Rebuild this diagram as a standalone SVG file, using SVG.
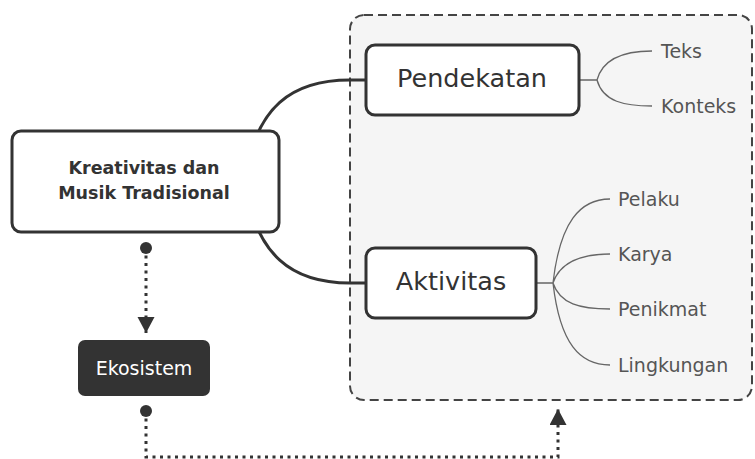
<svg xmlns="http://www.w3.org/2000/svg" width="755" height="459" viewBox="0 0 755 459">
<defs>
<style>
.node{fill:#fff;stroke:#333;stroke-width:3}
.main{font-family:"DejaVu Sans",sans-serif;font-weight:bold;font-size:17.5px;fill:#333;text-anchor:middle}
.topic{font-family:"DejaVu Sans",sans-serif;font-size:25.5px;fill:#333;text-anchor:middle}
.leaf{font-family:"DejaVu Sans",sans-serif;font-size:19px;fill:#555}
.eko{font-family:"DejaVu Sans",sans-serif;font-size:19px;fill:#fff;text-anchor:middle}
.thick{fill:none;stroke:#333;stroke-width:3}
.thin{fill:none;stroke:#666;stroke-width:1.3}
.dot{fill:none;stroke:#333;stroke-width:3;stroke-dasharray:3 4.5}
</style>
<marker id="arrow" markerUnits="userSpaceOnUse" markerWidth="18" markerHeight="18" refX="16" refY="8.5" orient="auto">
<path d="M0,0 L16,8.5 L0,17 Z" fill="#333"/>
</marker>
<marker id="start" markerUnits="userSpaceOnUse" markerWidth="14" markerHeight="14" refX="7" refY="7">
<circle cx="7" cy="7" r="6" fill="#333"/>
</marker>
</defs>
<rect width="755" height="459" fill="#fff"/>
<g id="container">
<rect x="350" y="15" width="402" height="385" rx="14" fill="#f5f5f5" stroke="#444" stroke-width="2" stroke-dasharray="9 5"/>
</g>
<g id="connectors">
<path class="thick" d="M366,80 L350,80 C292,80 256,106 244,181 C256,256 292,283 350,283 L366,283"/>
<path class="thin" d="M579,80 L597,80 M597,80 C603,58 625,51 652,51 M597,80 C603,102 625,106 652,106"/>
<path class="thin" d="M536,283 L553,283 M553,283 C560,222 580,199 610,199 M553,283 C560,262 580,254 610,254 M553,283 C560,304 580,309 610,309 M553,283 C560,344 580,365 610,365"/>
<path class="dot" d="M146,248 L146,333" marker-start="url(#start)" marker-end="url(#arrow)"/>
<path class="dot" d="M146,411 L146,457 L558,457 L558,409" marker-start="url(#start)" marker-end="url(#arrow)"/>
</g>
<g id="main">
<rect class="node" x="12" y="131" width="267" height="101" rx="9"/>
<text class="main" x="144" y="174">Kreativitas dan</text>
<text class="main" x="144" y="199">Musik Tradisional</text>
</g>
<g id="pendekatan">
<rect class="node" x="366" y="45" width="213" height="70" rx="9"/>
<text class="topic" x="472" y="87">Pendekatan</text>
</g>
<g id="aktivitas">
<rect class="node" x="366" y="248" width="170" height="70" rx="9"/>
<text class="topic" x="451" y="290">Aktivitas</text>
</g>
<g id="ekosistem">
<rect x="78" y="340" width="132" height="56" rx="7" fill="#333"/>
<text class="eko" x="144" y="375">Ekosistem</text>
</g>
<g id="teks"><text class="leaf" x="661" y="58">Teks</text></g>
<g id="konteks"><text class="leaf" x="661" y="113">Konteks</text></g>
<g id="pelaku"><text class="leaf" x="618" y="206">Pelaku</text></g>
<g id="karya"><text class="leaf" x="618" y="261">Karya</text></g>
<g id="penikmat"><text class="leaf" x="618" y="316">Penikmat</text></g>
<g id="lingkungan"><text class="leaf" x="618" y="372">Lingkungan</text></g>
</svg>
